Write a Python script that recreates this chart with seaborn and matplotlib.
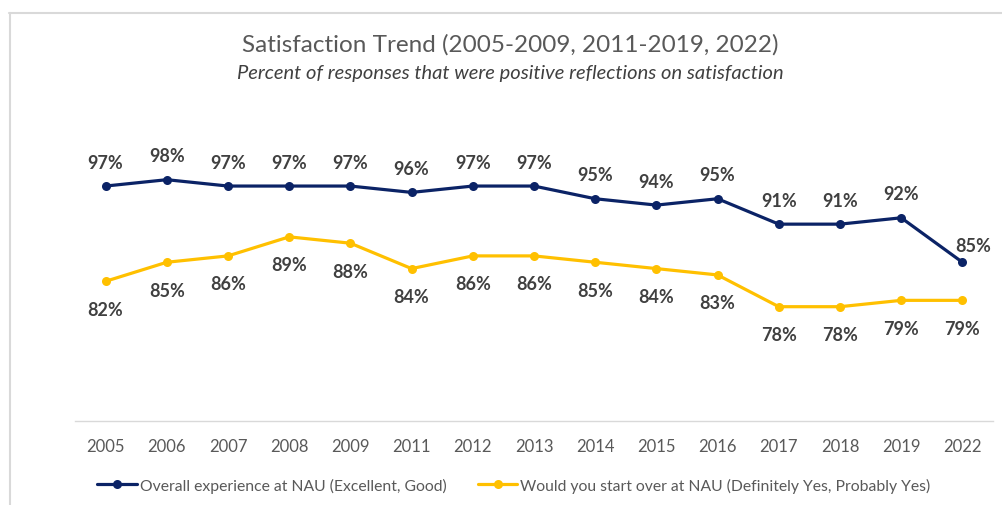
import matplotlib
matplotlib.use("Agg")
import matplotlib.pyplot as plt
from matplotlib.lines import Line2D
import seaborn as sns
import pandas as pd

# Survey years and the two satisfaction series (percent positive)
years = ["2005", "2006", "2007", "2008", "2009", "2011", "2012", "2013",
         "2014", "2015", "2016", "2017", "2018", "2019", "2022"]
overall_experience = [97, 98, 97, 97, 97, 96, 97, 97, 95, 94, 95, 91, 91, 92, 85]
start_over = [82, 85, 86, 89, 88, 84, 86, 86, 85, 84, 83, 78, 78, 79, 79]

series_names = ["Overall experience at NAU (Excellent, Good)",
                "Would you start over at NAU (Definitely Yes, Probably Yes)"]
series_colors = ["#0B2366", "#FFC000"]

sns.set_theme(style="white")
plt.rcParams["font.family"] = ["Lato", "DejaVu Sans"]

df = pd.concat([
    pd.DataFrame({"pos": range(len(years)), "year": years,
                  "value": overall_experience, "series": series_names[0]}),
    pd.DataFrame({"pos": range(len(years)), "year": years,
                  "value": start_over, "series": series_names[1]}),
], ignore_index=True)

fig = plt.figure(figsize=(10.02, 5.06), dpi=100)
ax = fig.add_axes([75 / 1002, 1 - 422 / 506, 918 / 1002, 254 / 506])

sns.lineplot(data=df, x="pos", y="value", hue="series",
             palette=dict(zip(series_names, series_colors)),
             marker="o", markersize=6.5, markeredgewidth=0,
             linewidth=2.3, ax=ax, legend=False)

ax.set_xlim(-0.5, len(years) - 0.5)
ax.set_ylim(60, 100)
ax.set_xticks(range(len(years)))
ax.set_xticklabels(years, fontsize=12, color="#595959")
ax.tick_params(axis="x", length=0, pad=12)
ax.set_yticks([])
ax.set_xlabel("")
ax.set_ylabel("")
for side in ["top", "left", "right"]:
    ax.spines[side].set_visible(False)
ax.spines["bottom"].set_color("#D9D9D9")
ax.spines["bottom"].set_linewidth(1.0)

label_color = "#404040"
for i, v in enumerate(overall_experience):
    dx, dy = (11, 17) if i == len(years) - 1 else (0, 24)
    ax.annotate(f"{v}%", (i, v), xytext=(dx, dy), textcoords="offset pixels",
                ha="center", va="center", fontsize=13, fontweight="bold",
                color=label_color)
for i, v in enumerate(start_over):
    ax.annotate(f"{v}%", (i, v), xytext=(0, -28), textcoords="offset pixels",
                ha="center", va="center", fontsize=13, fontweight="bold",
                color=label_color)

fig.text(0.509, 1 - 45 / 506, "Satisfaction Trend (2005-2009, 2011-2019, 2022)",
         ha="center", va="center", fontsize=17.5, fontweight="normal", color="#595959")
fig.text(0.509, 1 - 73 / 506,
         "Percent of responses that were positive reflections on satisfaction",
         ha="center", va="center", fontsize=14.5, fontstyle="italic", color="#404040")

handles = [Line2D([], [], color=c, linewidth=2.3, marker="o", markersize=6.5,
                  markeredgewidth=0) for c in series_colors]
fig.legend(handles, series_names, loc="center", bbox_to_anchor=(0.513, 1 - 486 / 506),
           ncol=2, frameon=False, fontsize=11.3, handlelength=2.5,
           handletextpad=0.2, columnspacing=2.0, labelcolor="#595959")

# Light chart-area border along the top and left edges
fig.add_artist(Line2D([9 / 1002, 1], [1 - 13.5 / 506, 1 - 13.5 / 506],
                      transform=fig.transFigure, color="#D9D9D9", linewidth=1.5))
fig.add_artist(Line2D([9.5 / 1002, 9.5 / 1002], [0, 1 - 13.5 / 506],
                      transform=fig.transFigure, color="#D9D9D9", linewidth=1.5))

fig.savefig("out.png", dpi=100)
